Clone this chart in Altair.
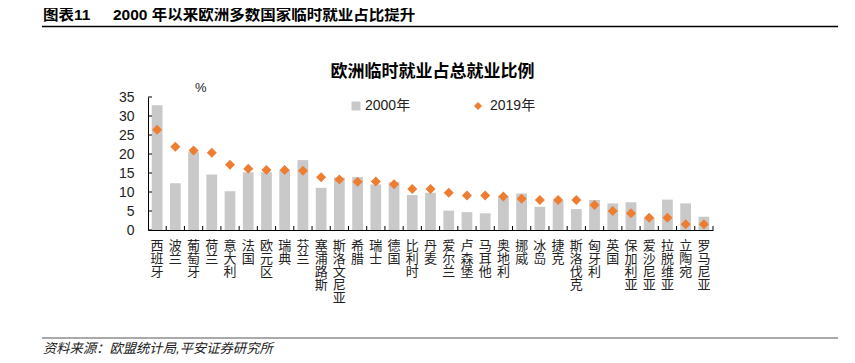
import altair as alt
import pandas as pd

countries = ["西班牙", "波兰", "葡萄牙", "荷兰", "意大利", "法国", "欧元区", "瑞典", "芬兰",
             "塞浦路斯", "斯洛文尼亚", "希腊", "瑞士", "德国", "比利时", "丹麦", "爱尔兰",
             "卢森堡", "马耳他", "奥地利", "挪威", "冰岛", "捷克", "斯洛伐克", "匈牙利",
             "英国", "保加利亚", "爱沙尼亚", "拉脱维亚", "立陶宛", "罗马尼亚"]
v2000 = [32.8, 12.3, 20.5, 14.6, 10.2, 15.2, 15.2, 15.8, 18.4, 11.1, 13.8, 13.9, 12.0,
         12.6, 9.2, 9.8, 5.1, 4.7, 4.4, 8.9, 9.6, 6.1, 7.8, 5.5, 7.9, 7.0, 7.3, 3.3,
         8.0, 7.0, 3.5]
v2019 = [26.4, 21.9, 20.9, 20.3, 17.2, 16.1, 15.8, 15.8, 15.6, 13.9, 13.3, 12.7, 12.75,
         12.05, 10.8, 10.8, 9.8, 9.1, 9.1, 8.8, 8.2, 7.9, 7.9, 7.9, 6.6, 5.0, 4.4, 3.2,
         3.2, 1.5, 1.5]
y_ticks = [0, 5, 10, 15, 20, 25, 30, 35]

header_no = "图表11"
header = "2000 年以来欧洲多数国家临时就业占比提升"
chart_title = "欧洲临时就业占总就业比例"
unit_label = "%"
source = "资料来源：欧盟统计局,平安证券研究所"

FONT = "Liberation Sans, Noto Sans CJK SC"
W, H = 565, 133

df = pd.DataFrame({"country": countries, "v2000": v2000, "v2019": v2019})
one = pd.DataFrame({"a": [0]})
ticks_df = pd.DataFrame({"t": y_ticks})

yscale = alt.Scale(domain=[0, 35], nice=False, zero=True)
xscale = alt.Scale(paddingInner=0, paddingOuter=0)

x_axis = alt.Axis(labelAngle=0, labelExpr="split(datum.label, '')",
                  labelLineHeight=13, labelBaseline="top", labelPadding=9,
                  labelFontSize=13, labelColor="#222", ticks=False,
                  domainColor="#000", domainWidth=1, labelFont=FONT, title=None)
y_axis = alt.Axis(values=y_ticks, grid=False, ticks=False, domainColor="#000",
                  domainWidth=1, labelFontSize=14, labelColor="#222",
                  labelPadding=14, labelFont=FONT, title=None)

bars = alt.Chart(df).transform_calculate(series="'2000年'").mark_bar(
    width=alt.RelativeBandSize(0.59)
).encode(
    x=alt.X("country:N", sort=countries, scale=xscale, axis=x_axis),
    y=alt.Y("v2000:Q", scale=yscale, axis=y_axis),
    color=alt.Color("series:N", scale=alt.Scale(domain=["2000年"], range=["#c9c9c9"]),
                    legend=alt.Legend(orient="none", legendX=201, legendY=2, title=None,
                                      symbolType="square", symbolSize=81,
                                      symbolStrokeWidth=0, labelOffset=2,
                                      labelFontSize=14, labelFont=FONT,
                                      labelColor="#222", padding=0)),
)

points = alt.Chart(df).transform_calculate(series="'2019年'").mark_point(
    shape="diamond", filled=True, size=100, opacity=1
).encode(
    x=alt.X("country:N", sort=countries, scale=xscale, axis=x_axis),
    y=alt.Y("v2019:Q", scale=yscale, axis=y_axis),
    color=alt.Color("series:N", scale=alt.Scale(domain=["2019年"], range=["#ed7d31"]),
                    legend=alt.Legend(orient="none", legendX=323, legendY=2, title=None,
                                      symbolType="diamond", symbolSize=64,
                                      symbolStrokeWidth=0, labelOffset=5,
                                      labelFontSize=14, labelFont=FONT,
                                      labelColor="#222", padding=0)),
)

ytick_rules = alt.Chart(ticks_df).mark_rule(color="#000", strokeWidth=1).encode(
    y=alt.Y("t:Q", scale=yscale, axis=y_axis),
    x=alt.value(0), x2=alt.value(4),
)

xtick_rules = alt.Chart(df).mark_rule(color="#000", strokeWidth=1).encode(
    x=alt.X("country:N", sort=countries, scale=xscale, axis=x_axis, bandPosition=1),
    y=alt.value(H - 4), y2=alt.value(H),
)

def text_layer(txt, x, y, size, bold=False, italic=False, align="left", color="#000"):
    return alt.Chart(one).mark_text(
        align=align, baseline="middle", fontSize=size, font=FONT,
        fontWeight="bold" if bold else "normal",
        fontStyle="italic" if italic else "normal", color=color,
    ).encode(x=alt.value(x), y=alt.value(y), text=alt.value(txt))

def hline(y, x1, x2, width, color):
    return alt.Chart(one).mark_rule(color=color, strokeWidth=width).encode(
        x=alt.value(x1), x2=alt.value(x2), y=alt.value(y))

layers = [
    bars, points, ytick_rules, xtick_rules,
    hline(-94, -106, 690, 1, "#333"),
    hline(-70.5, -106, 690, 1.5, "#000"),
    text_layer(header_no, -105, -82, 15.5, bold=True),
    text_layer(header, -35, -82, 15.5, bold=True),
    text_layer(chart_title, W / 2 + 2, -25, 17, bold=True, align="center"),
    text_layer(unit_label, 47, -9, 13, color="#222"),
    hline(241, -106, 690, 1, "#555"),
    hline(261, -106, 690, 1.5, "#333"),
    text_layer(source, -105, 252, 13.3, italic=True, color="#222"),
]

chart = alt.layer(*layers).resolve_scale(color="independent").properties(
    width=W, height=H,
    autosize=alt.AutoSizeParams(type="none"),
    padding={"left": 140, "top": 89, "right": 134, "bottom": 125},
).configure(background="white").configure_view(stroke=None)

chart.save("out.html", embed_options={"renderer": "svg", "actions": False})
